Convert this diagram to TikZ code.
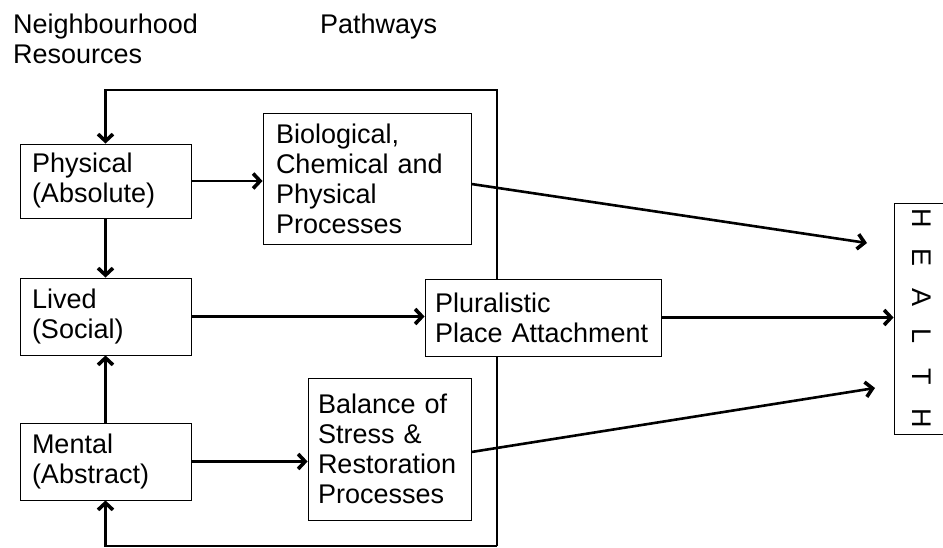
\documentclass[tikz,border=0pt]{standalone}
\usepackage{fontspec}
\setmainfont{Liberation Sans}
\usetikzlibrary{arrows.meta,calc}
\begin{document}
\begin{tikzpicture}[x=1pt,y=-1pt,
  font=\fontsize{27}{30}\selectfont,
  box/.style={draw, line width=0.9pt, fill=white, inner sep=0pt, align=left},
  label/.style={inner sep=0pt, align=left, anchor=north west},
  conn/.style={line width=2.6pt, line join=miter, -{Straight Barb[length=7pt,width=15pt,line width=1pt 1]}}]
\useasboundingbox (0,0) rectangle (943,548);

% loop corners
\coordinate (tl) at (105.5,90);
\coordinate (tr) at (497,90);
\coordinate (br) at (497,546);
\coordinate (bl) at (105.5,546);

% headers
\node[label] (hdrres) at (13,13.5) {Neighbourhood\\Resources};
\node[label] (hdrpath) at (320,13.5) {Pathways};

% boxes
\node[box, minimum width=171pt, minimum height=74pt, text width=147pt] (phys) at (105.5,181) {Physical\\(Absolute)};
\node[box, minimum width=171pt, minimum height=77pt, text width=147pt] (lived) at (105.5,316.5) {Lived\\(Social)};
\node[box, minimum width=171pt, minimum height=77pt, text width=147pt] (mental) at (105.5,461.5) {Mental\\(Abstract)};

\draw[conn] (br) -- (tr) -- (tl) -- (phys.north);
\draw[conn] (br) -- (bl) -- (mental.south);

\node[box, minimum width=208pt, minimum height=131pt, text width=182pt] (bio) at (367,178.5) {Biological,\\Chemical and\\Physical\\Processes};
\node[box, minimum width=236pt, minimum height=77pt, text width=216pt] (plur) at (543,317.5) {Pluralistic\\Place Attachment};
\node[box, minimum width=163pt, minimum height=142pt, text width=143pt] (bal) at (389.5,449) {Balance of\\Stress \&\\Restoration\\Processes};

\node[draw, line width=0.9pt, fill=white, inner sep=0pt, minimum width=56pt, minimum height=231pt, align=center,
  font=\fontsize{27}{40}\selectfont] (health) at (922,318.5)
  {\rotatebox{-90}{H}\\\rotatebox{-90}{E}\\\rotatebox{-90}{A}\\\rotatebox{-90}{L}\\\rotatebox{-90}{T}\\\rotatebox{-90}{H}};

% connectors
\coordinate (h1) at (867,243);
\coordinate (h3) at (875,388);
\draw[conn] (phys.east) -- (phys.east -| bio.west);
\draw[conn] (phys.south) -- (lived.north);
\draw[conn] (mental.north) -- (lived.south);
\draw[conn] (lived.east) -- (lived.east -| plur.west);
\draw[conn] (mental.east) -- (mental.east -| bal.west);
\draw[conn] (plur.east) -- (plur.east -| health.west);
\draw[conn] ($(bio.east)+(0,5.5)$) -- (h1);
\draw[conn] ($(bal.east)+(0,3)$) -- (h3);
\end{tikzpicture}
\end{document}
